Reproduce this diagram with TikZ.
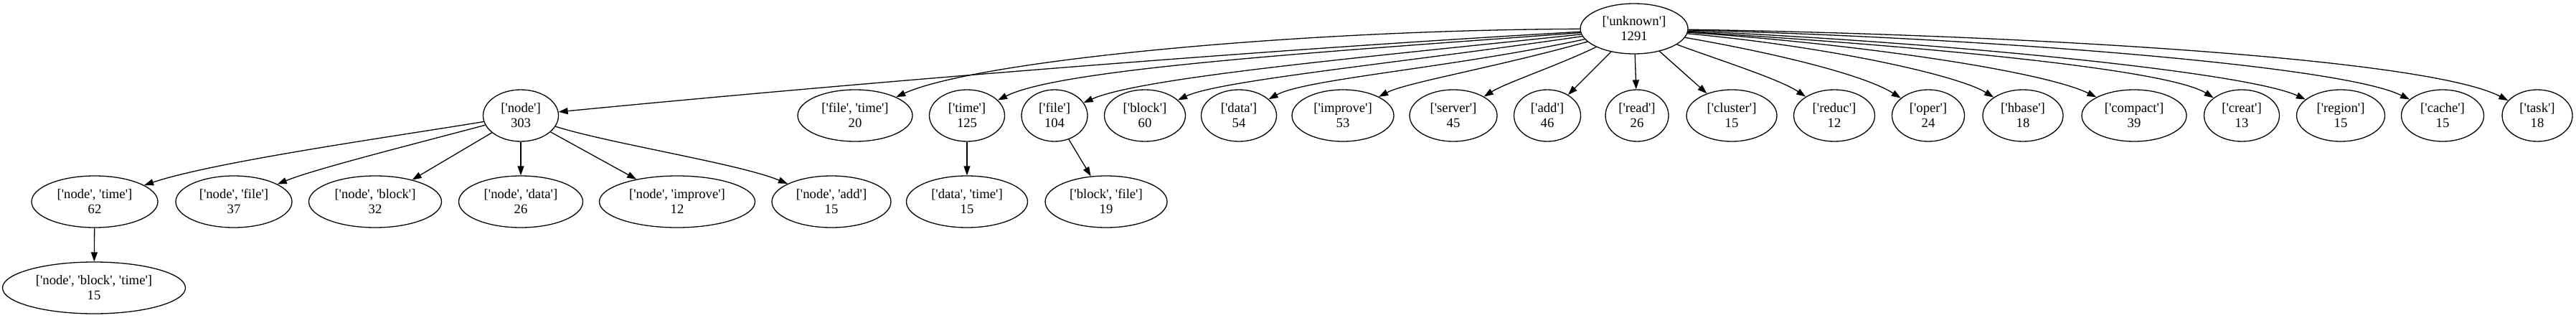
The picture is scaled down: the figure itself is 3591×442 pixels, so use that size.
\documentclass[tikz,border=0pt]{standalone}
\usepackage{fontspec}
\setmonofont{Liberation Serif}
\usetikzlibrary{arrows.meta,shapes.geometric}
\tikzset{
  vert/.style={ellipse, draw, line width=1.3pt, inner sep=0pt, minimum height=72pt,
    align=center, font=\ttfamily\fontsize{18.67}{21}\selectfont},
  conn/.style={line width=1.3pt, -{Triangle[length=13pt,width=9pt]}},
}
\begin{document}
\begin{tikzpicture}[x=1pt,y=-1pt]
\useasboundingbox (0,0) rectangle (3591,442);
% rank 1
\node[vert, minimum width=150pt, minimum height=70pt] (root) at (2278,40) {['unknown']\\1291};
% rank 2
\node[vert, minimum width=105pt] (node) at (726,161) {['node']\\303};
\node[vert, minimum width=160pt] (ft) at (1192,161) {['file', 'time']\\20};
\node[vert, minimum width=105pt] (time) at (1348,161) {['time']\\125};
\node[vert, minimum width=92pt] (file) at (1470,161) {['file']\\104};
\node[vert, minimum width=113pt] (block) at (1596,161) {['block']\\60};
\node[vert, minimum width=105pt] (data) at (1727,161) {['data']\\54};
\node[vert, minimum width=142pt] (improve) at (1872,161) {['improve']\\53};
\node[vert, minimum width=122pt] (server) at (2026,161) {['server']\\45};
\node[vert, minimum width=93pt] (add) at (2157,161) {['add']\\46};
\node[vert, minimum width=88pt] (read) at (2282,161) {['read']\\26};
\node[vert, minimum width=126pt] (cluster) at (2414,161) {['cluster']\\15};
\node[vert, minimum width=113pt] (reduc) at (2557,161) {['reduc']\\12};
\node[vert, minimum width=101pt] (oper) at (2688,161) {['oper']\\24};
\node[vert, minimum width=112pt] (hbase) at (2820,161) {['hbase']\\18};
\node[vert, minimum width=146pt] (compact) at (2975,161) {['compact']\\39};
\node[vert, minimum width=105pt] (creat) at (3125,161) {['creat']\\13};
\node[vert, minimum width=123pt] (region) at (3263,161) {['region']\\15};
\node[vert, minimum width=115pt] (cache) at (3405,161) {['cache']\\15};
\node[vert, minimum width=98pt] (task) at (3537,161) {['task']\\18};
% rank 3
\node[vert, minimum width=176pt] (nt) at (132,281) {['node', 'time']\\62};
\node[vert, minimum width=162pt] (nf) at (326,281) {['node', 'file']\\37};
\node[vert, minimum width=185pt] (nb) at (523,281) {['node', 'block']\\32};
\node[vert, minimum width=173pt] (nd) at (726,281) {['node', 'data']\\26};
\node[vert, minimum width=217pt] (ni) at (944,281) {['node', 'improve']\\12};
\node[vert, minimum width=166pt] (na) at (1159,281) {['node', 'add']\\15};
\node[vert, minimum width=169pt] (dt) at (1348,281) {['data', 'time']\\15};
\node[vert, minimum width=170pt] (bf) at (1542,281) {['block', 'file']\\19};
% rank 4
\node[vert, minimum width=255pt] (nbt) at (131,401) {['node', 'block', 'time']\\15};
% edges from root
\draw[conn] (root) .. controls (1750,70) and (1200,115) .. (node);
\draw[conn] (root) .. controls (1800,42) and (1360,85) .. (ft);
\draw[conn] (root) .. controls (1850,72) and (1480,95) .. (time);
\draw[conn] (root) .. controls (1900,80) and (1590,108) .. (file);
\draw[conn] (root) .. controls (1950,88) and (1700,112) .. (block);
\draw[conn] (root) .. controls (2020,95) and (1820,110) .. (data);
\draw[conn] (root) .. controls (2080,95) and (1960,115) .. (improve);
\draw[conn] (root) .. controls (2170,92) and (2100,115) .. (server);
\draw[conn] (root) -- (add);
\draw[conn] (root) -- (read);
\draw[conn] (root) -- (cluster);
\draw[conn] (root) .. controls (2400,85) and (2480,110) .. (reduc);
\draw[conn] (root) .. controls (2480,75) and (2600,105) .. (oper);
\draw[conn] (root) .. controls (2550,65) and (2730,105) .. (hbase);
\draw[conn] (root) .. controls (2600,62) and (2850,100) .. (compact);
\draw[conn] (root) .. controls (2650,62) and (3020,95) .. (creat);
\draw[conn] (root) .. controls (2700,58) and (3130,100) .. (region);
\draw[conn] (root) .. controls (2750,52) and (3260,90) .. (cache);
\draw[conn] (root) .. controls (2800,48) and (3380,80) .. (task);
% edges from node
\draw[conn] (node) .. controls (550,190) and (300,225) .. (nt);
\draw[conn] (node) .. controls (580,200) and (440,235) .. (nf);
\draw[conn] (node) -- (nb);
\draw[conn] (node) -- (nd);
\draw[conn] (node) -- (ni);
\draw[conn] (node) .. controls (850,200) and (1030,228) .. (na);
% lower edges
\draw[conn] (nt) -- (nbt);
\draw[conn] (time) -- (dt);
\draw[conn] (file) -- (bf);
\end{tikzpicture}
\end{document}
